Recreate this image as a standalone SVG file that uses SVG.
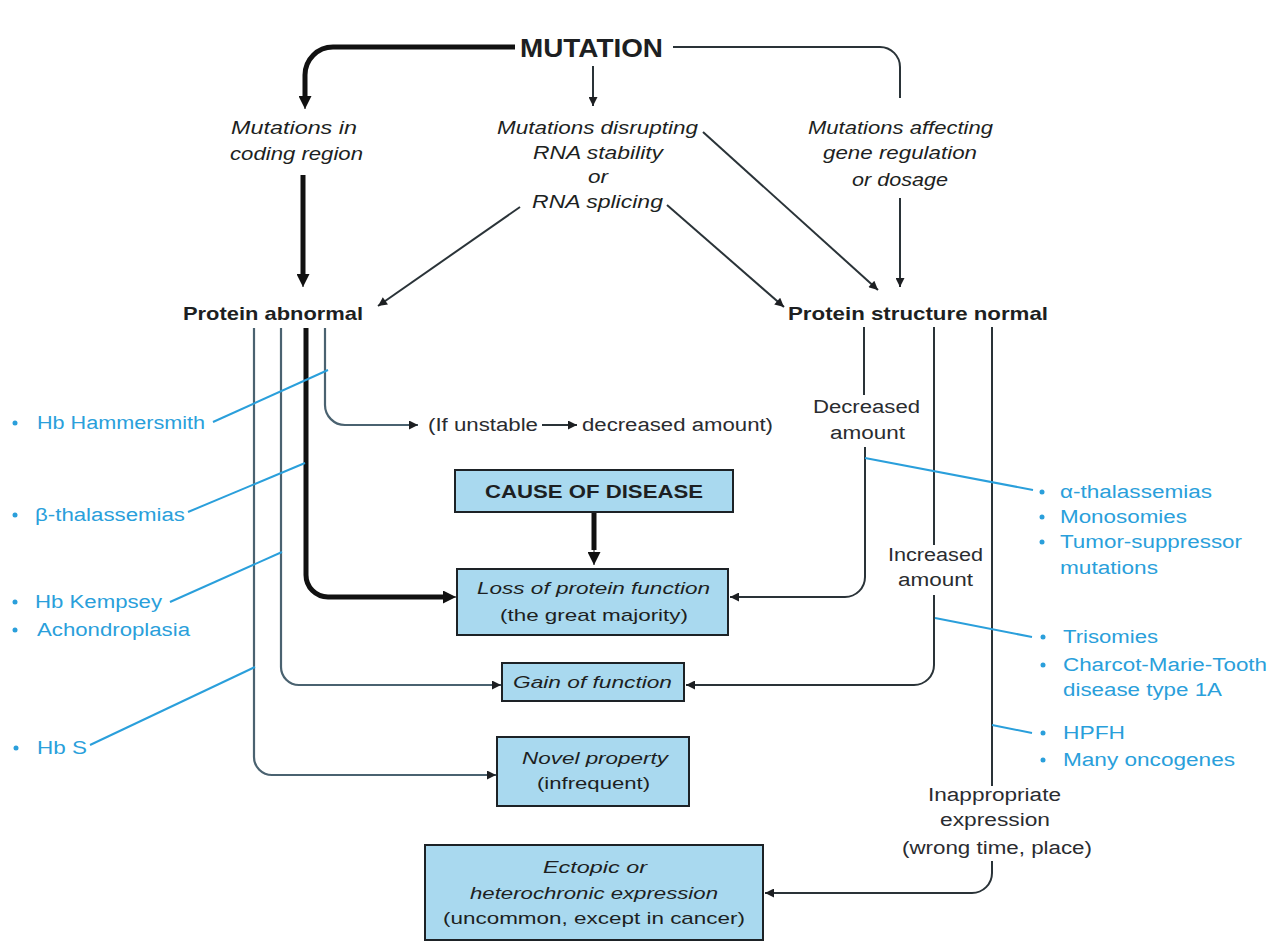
<svg xmlns="http://www.w3.org/2000/svg" width="1275" height="942" viewBox="0 0 1275 942">
<defs>
<style>
text{font-family:"Liberation Sans",Arial,sans-serif;fill:#1d1f22;}
.it{font-style:italic;font-size:18px;}
.bd{font-weight:bold;font-size:19px;}
.lb{font-size:18px;fill:#2a2c30;}
.bx{font-size:17px;}
.bl{font-size:18px;fill:#2a9fdb;}
.box{fill:#a9d9ef;stroke:#1d2226;stroke-width:2;}
.ln{fill:none;stroke:#2a3338;stroke-width:2;}
.lng{fill:none;stroke:#4a6270;stroke-width:2.2;}
.tk{fill:none;stroke:#111;stroke-width:5;}
.bln{fill:none;stroke:#2a9fdb;stroke-width:2;}
.dot{fill:#2a9fdb;}
</style>
<marker id="ah" viewBox="0 0 10 10" refX="10" refY="5" markerWidth="11" markerHeight="9" markerUnits="userSpaceOnUse" orient="auto"><path d="M0,0 L10,5 L0,10 z" fill="#1d1f22"/></marker>
<marker id="ahk" viewBox="0 0 10 10" refX="10" refY="5" markerWidth="14" markerHeight="13" markerUnits="userSpaceOnUse" orient="auto"><path d="M0,0 L10,5 L0,10 z" fill="#111"/></marker>
</defs>
<rect width="1275" height="942" fill="#ffffff"/>

<g id="connectors">
<path class="tk" d="M515,47 H333 A28,28 0 0 0 305,75 V100"/>
<path d="M305,96 V109" stroke="#111" stroke-width="1" marker-end="url(#ahk)"/>
<path class="ln" stroke-width="2.5" d="M673,47 H880 A20,20 0 0 1 900,67 V98"/>
<path class="ln" d="M593,66 V106" marker-end="url(#ah)"/>
<path class="tk" d="M303,175 V276"/>
<path d="M303,272 V287" stroke="#111" stroke-width="1" marker-end="url(#ahk)"/>
<path class="ln" d="M703,132 L878,290" marker-end="url(#ah)"/>
<path class="ln" d="M667,205 L784,307" marker-end="url(#ah)"/>
<path class="ln" d="M520,207 L378,306" marker-end="url(#ah)"/>
<path class="ln" d="M900,198 V287" marker-end="url(#ah)"/>

<path class="lng" d="M254,328 V757 A18,18 0 0 0 272,775 H496" marker-end="url(#ah)"/>
<path class="lng" d="M281,328 V667 A18,18 0 0 0 299,685 H501" marker-end="url(#ah)"/>
<path class="tk" d="M306,328 V575 A22,22 0 0 0 328,597 H446"/>
<path d="M440,597 H456" stroke="#111" stroke-width="1" marker-end="url(#ahk)"/>
<path class="lng" d="M325,328 V405 A20,20 0 0 0 345,425 H418" marker-end="url(#ah)"/>
<path class="ln" d="M542,425 H577" marker-end="url(#ah)"/>

<path class="ln" d="M864,327 V395"/>
<path class="ln" d="M865,447 V577 A20,20 0 0 1 845,597 H730" marker-end="url(#ah)"/>
<path class="ln" d="M934,327 V545"/>
<path class="ln" d="M934,595 V665 A20,20 0 0 1 914,685 H686" marker-end="url(#ah)"/>
<path class="ln" d="M992,327 V786"/>
<path class="ln" d="M992,861 V873 A20,20 0 0 1 972,893 H765" marker-end="url(#ah)"/>

<path class="tk" stroke-width="7" d="M594,512 V550"/>
<path d="M594,546 V565" stroke="#111" stroke-width="1" marker-end="url(#ahk)"/>

<path class="bln" d="M213,422 L328,370"/>
<path class="bln" d="M188,512 L305,463"/>
<path class="bln" d="M170,602 L282,552"/>
<path class="bln" d="M90,745 L255,667"/>
<path class="bln" d="M865,458 L1033,490"/>
<path class="bln" d="M935,618 L1032,637"/>
<path class="bln" d="M992,725 L1032,733"/>
</g>

<g id="mutation"><text x="520" y="57" font-size="26" font-weight="bold" textLength="143" lengthAdjust="spacingAndGlyphs">MUTATION</text></g>

<g id="coding">
<text class="it" x="231" y="134" textLength="126" lengthAdjust="spacingAndGlyphs">Mutations in</text>
<text class="it" x="230" y="160" textLength="133" lengthAdjust="spacingAndGlyphs">coding region</text>
</g>

<g id="rna">
<text class="it" x="497" y="134" textLength="201" lengthAdjust="spacingAndGlyphs">Mutations disrupting</text>
<text class="it" x="533" y="159" textLength="130" lengthAdjust="spacingAndGlyphs">RNA stability</text>
<text class="it" x="588" y="183" textLength="20" lengthAdjust="spacingAndGlyphs">or</text>
<text class="it" x="532" y="208" textLength="131" lengthAdjust="spacingAndGlyphs">RNA splicing</text>
</g>

<g id="regulation">
<text class="it" x="808" y="134" textLength="185" lengthAdjust="spacingAndGlyphs">Mutations affecting</text>
<text class="it" x="823" y="159" textLength="154" lengthAdjust="spacingAndGlyphs">gene regulation</text>
<text class="it" x="852" y="186" textLength="96" lengthAdjust="spacingAndGlyphs">or dosage</text>
</g>

<g id="protein-abnormal"><text class="bd" x="183" y="320" textLength="180" lengthAdjust="spacingAndGlyphs">Protein abnormal</text></g>
<g id="protein-normal"><text class="bd" x="788" y="320" textLength="260" lengthAdjust="spacingAndGlyphs">Protein structure normal</text></g>

<g id="unstable">
<text class="lb" x="428" y="431" textLength="110" lengthAdjust="spacingAndGlyphs">(If unstable</text>
<text class="lb" x="582" y="431" textLength="191" lengthAdjust="spacingAndGlyphs">decreased amount)</text>
</g>

<g id="cause">
<rect class="box" x="455" y="470" width="278" height="42"/>
<text x="485" y="498" font-size="18" font-weight="bold" textLength="218" lengthAdjust="spacingAndGlyphs">CAUSE OF DISEASE</text>
</g>

<g id="loss">
<rect class="box" x="457" y="569" width="271" height="66"/>
<text class="bx" x="477" y="594" font-style="italic" textLength="233" lengthAdjust="spacingAndGlyphs">Loss of protein function</text>
<text class="bx" x="500" y="621" textLength="188" lengthAdjust="spacingAndGlyphs">(the great majority)</text>
</g>

<g id="gain">
<rect class="box" x="502" y="663" width="182" height="38"/>
<text class="bx" x="513" y="688" font-style="italic" textLength="159" lengthAdjust="spacingAndGlyphs">Gain of function</text>
</g>

<g id="novel">
<rect class="box" x="497" y="737" width="192" height="69"/>
<text class="bx" x="522" y="764" font-style="italic" textLength="146" lengthAdjust="spacingAndGlyphs">Novel property</text>
<text class="bx" x="537" y="789" textLength="113" lengthAdjust="spacingAndGlyphs">(infrequent)</text>
</g>

<g id="ectopic">
<rect class="box" x="425" y="845" width="338" height="95"/>
<text class="bx" x="543" y="873" font-style="italic" textLength="104" lengthAdjust="spacingAndGlyphs">Ectopic or</text>
<text class="bx" x="470" y="899" font-style="italic" textLength="248" lengthAdjust="spacingAndGlyphs">heterochronic expression</text>
<text class="bx" x="443" y="924" textLength="302" lengthAdjust="spacingAndGlyphs">(uncommon, except in cancer)</text>
</g>

<g id="decreased">
<text class="lb" x="813" y="413" textLength="107" lengthAdjust="spacingAndGlyphs">Decreased</text>
<text class="lb" x="830" y="439" textLength="75" lengthAdjust="spacingAndGlyphs">amount</text>
</g>
<g id="increased">
<text class="lb" x="888" y="561" textLength="95" lengthAdjust="spacingAndGlyphs">Increased</text>
<text class="lb" x="898" y="586" textLength="75" lengthAdjust="spacingAndGlyphs">amount</text>
</g>
<g id="inappropriate">
<text class="lb" x="928" y="801" textLength="133" lengthAdjust="spacingAndGlyphs">Inappropriate</text>
<text class="lb" x="940" y="826" textLength="110" lengthAdjust="spacingAndGlyphs">expression</text>
<text class="lb" x="902" y="854" textLength="190" lengthAdjust="spacingAndGlyphs">(wrong time, place)</text>
</g>

<g id="ex-hammersmith">
<circle class="dot" cx="15" cy="423" r="2.5"/>
<text class="bl" x="37" y="429" textLength="168" lengthAdjust="spacingAndGlyphs">Hb Hammersmith</text>
</g>
<g id="ex-beta">
<circle class="dot" cx="15" cy="515" r="2.5"/>
<text class="bl" x="35" y="521" textLength="150" lengthAdjust="spacingAndGlyphs">β-thalassemias</text>
</g>
<g id="ex-kempsey">
<circle class="dot" cx="15" cy="602" r="2.5"/>
<text class="bl" x="35" y="608" textLength="127" lengthAdjust="spacingAndGlyphs">Hb Kempsey</text>
<circle class="dot" cx="15" cy="630" r="2.5"/>
<text class="bl" x="37" y="636" textLength="153" lengthAdjust="spacingAndGlyphs">Achondroplasia</text>
</g>
<g id="ex-hbs">
<circle class="dot" cx="16" cy="748" r="2.5"/>
<text class="bl" x="37" y="754" textLength="50" lengthAdjust="spacingAndGlyphs">Hb S</text>
</g>
<g id="ex-decreased">
<circle class="dot" cx="1042" cy="492" r="2.5"/>
<text class="bl" x="1060" y="498" textLength="152" lengthAdjust="spacingAndGlyphs">α-thalassemias</text>
<circle class="dot" cx="1042" cy="517" r="2.5"/>
<text class="bl" x="1060" y="523" textLength="127" lengthAdjust="spacingAndGlyphs">Monosomies</text>
<circle class="dot" cx="1042" cy="542" r="2.5"/>
<text class="bl" x="1060" y="548" textLength="182" lengthAdjust="spacingAndGlyphs">Tumor-suppressor</text>
<text class="bl" x="1060" y="574" textLength="98" lengthAdjust="spacingAndGlyphs">mutations</text>
</g>
<g id="ex-increased">
<circle class="dot" cx="1043" cy="637" r="2.5"/>
<text class="bl" x="1063" y="643" textLength="95" lengthAdjust="spacingAndGlyphs">Trisomies</text>
<circle class="dot" cx="1043" cy="665" r="2.5"/>
<text class="bl" x="1063" y="671" textLength="204" lengthAdjust="spacingAndGlyphs">Charcot-Marie-Tooth</text>
<text class="bl" x="1063" y="696" textLength="159" lengthAdjust="spacingAndGlyphs">disease type 1A</text>
</g>
<g id="ex-inappropriate">
<circle class="dot" cx="1043" cy="733" r="2.5"/>
<text class="bl" x="1063" y="739" textLength="62" lengthAdjust="spacingAndGlyphs">HPFH</text>
<circle class="dot" cx="1043" cy="760" r="2.5"/>
<text class="bl" x="1063" y="766" textLength="172" lengthAdjust="spacingAndGlyphs">Many oncogenes</text>
</g>
</svg>
